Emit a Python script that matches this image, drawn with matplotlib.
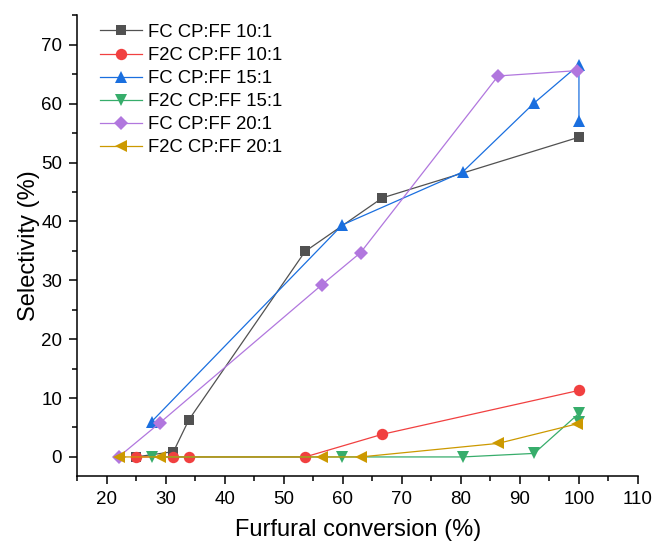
import matplotlib
matplotlib.use('Agg')
import matplotlib.pyplot as plt
from matplotlib.ticker import MultipleLocator

plt.rcParams['font.family'] = ['Liberation Sans', 'DejaVu Sans']

# furfural conversion (%) and selectivity (%) for each CP:FF ratio
conv_10 = [24.9, 31.3, 33.9, 53.6, 66.7, 100.0]
fc_10 = [0.0, 0.9, 6.3, 34.9, 44.0, 54.3]
f2c_10 = [0.0, 0.0, 0.0, 0.0, 3.85, 11.3]

conv_15 = [27.6, 59.9, 80.3, 92.4, 100.0, 100.0]
fc_15 = [6.0, 39.4, 48.4, 60.1, 66.6, 57.0]
f2c_15 = [0.0, 0.0, 0.0, 0.6, 7.4, 5.9]

conv_20 = [22.0, 29.0, 56.4, 63.0, 86.3, 99.6]
fc_20 = [0.0, 5.8, 29.2, 34.7, 64.7, 65.6]
f2c_20 = [0.0, 0.0, 0.0, 0.0, 2.3, 5.6]

series = [
    (conv_10, fc_10, 'FC CP:FF 10:1', '#515151', 's', 7.2),
    (conv_10, f2c_10, 'F2C CP:FF 10:1', '#F14040', 'o', 8.2),
    (conv_15, fc_15, 'FC CP:FF 15:1', '#1A6FDF', '^', 8.5),
    (conv_15, f2c_15, 'F2C CP:FF 15:1', '#37AD6B', 'v', 8.5),
    (conv_20, fc_20, 'FC CP:FF 20:1', '#B177DE', 'D', 6.8),
    (conv_20, f2c_20, 'F2C CP:FF 20:1', '#CC9900', '<', 8.5),
]

fig = plt.figure(figsize=(6.55, 5.45), dpi=100)
ax = fig.add_axes([0.118, 0.127, 0.856, 0.846])

for x, y, lab, col, mk, ms in series:
    ax.plot(x, y, color=col, lw=0.9, marker=mk, markersize=ms,
            markeredgewidth=0, label=lab)

ax.set_xlim(15, 110)
ax.set_ylim(-3.2, 75.1)
ax.set_xticks(range(20, 111, 10))
ax.xaxis.set_minor_locator(MultipleLocator(5))
ax.yaxis.set_major_locator(MultipleLocator(10))
ax.yaxis.set_minor_locator(MultipleLocator(5))
ax.set_yticks(range(0, 71, 10))

for s in ['top', 'right']:
    ax.spines[s].set_visible(False)
for s in ['left', 'bottom']:
    ax.spines[s].set_linewidth(1.1)

ax.tick_params(which='major', direction='out', length=6, width=1.1, labelsize=13.5, pad=5)
ax.tick_params(which='minor', direction='out', length=3.5, width=1.1)

ax.set_xlabel('Furfural conversion (%)', fontsize=17, labelpad=8)
ax.set_ylabel('Selectivity (%)', fontsize=17, labelpad=1)

ax.legend(loc='upper left', bbox_to_anchor=(0.04, 0.98), frameon=False,
          fontsize=13.3, handlelength=2.3, handletextpad=0.3,
          labelspacing=0.33, borderpad=0, borderaxespad=0)

fig.savefig('out.png', dpi=100)
